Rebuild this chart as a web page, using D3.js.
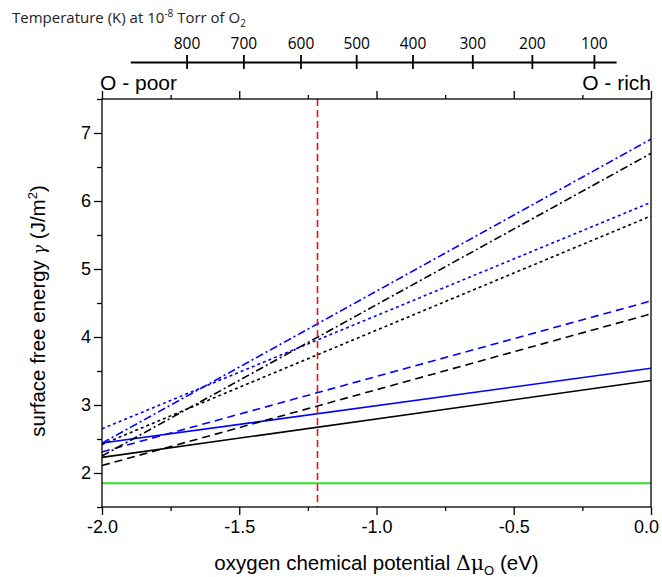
<!DOCTYPE html>
<html>
<head>
<meta charset="utf-8">
<script src="https://cdn.jsdelivr.net/npm/d3@7"></script>
<style>
  body { margin: 0; background: #fff; }
  svg { display: block; }
  .tick text { fill: #000; }
</style>
</head>
<body>
<svg id="chart"></svg>
<script>
// series values at mu = -2.0 and mu = 0.0 (eV)
const muEnds = [-2.0, 0.0];
const blueSolid = [2.44, 3.54];
const blackSolid = [2.23, 3.36];
const blueDashed = [2.31, 4.53];
const blackDashed = [2.11, 4.34];
const blueDotted = [2.65, 5.98];
const blackDotted = [2.42, 5.78];
const blueDashDot = [2.44, 6.91];
const blackDashDot = [2.25, 6.70];
const greenFlat = [1.85, 1.85];
const markerMu = -1.215;

// top axis: temperature ticks and their position in mu
const tempTicks = [900, 800, 700, 600, 500, 400, 300, 200, 100, 64];
const tempMu = [-1.897, -1.692, -1.485, -1.277, -1.074, -0.869, -0.651, -0.434, -0.208, -0.127];
const tempLabels = [800, 700, 600, 500, 400, 300, 200, 100];

const xMajor = [-2.0, -1.5, -1.0, -0.5, 0.0];
const xMinor = [-1.75, -1.25, -0.75, -0.25];
const yMajor = [2, 3, 4, 5, 6, 7];
const yMinor = [1.5, 2.5, 3.5, 4.5, 5.5, 6.5, 7.5];

const series = [
    {values: greenFlat, color: '#2fe02f', dash: null, width: 2},
    {values: blackSolid, color: '#000', dash: null, width: 1.6},
    {values: blueSolid, color: '#0000ff', dash: null, width: 1.6},
    {values: blackDashed, color: '#000', dash: '8,5', width: 1.6},
    {values: blueDashed, color: '#0000ff', dash: '8,5', width: 1.6},
    {values: blackDotted, color: '#000', dash: '3,3', width: 1.6},
    {values: blueDotted, color: '#0000ff', dash: '3,3', width: 1.6},
    {values: blackDashDot, color: '#000', dash: '8,3,2,3', width: 1.6},
    {values: blueDashDot, color: '#0000ff', dash: '8,3,2,3', width: 1.6}
];

const width = 662, height = 577;
const margin = {top: 99, right: 11, bottom: 70, left: 102};

const svg = d3.select('#chart')
    .attr('width', width)
    .attr('height', height);

const x = d3.scaleLinear().domain([-2, 0]).range([margin.left, width - margin.right]);
const y = d3.scaleLinear().domain([1.5, 7.5]).range([height - margin.bottom, margin.top]);

const tickFont = '18px "Liberation Sans", Arial, sans-serif';

// lines
const line = d3.line()
    .x(d => x(d[0]))
    .y(d => y(d[1]));

svg.append('g')
    .selectAll('path')
    .data(series)
    .join('path')
    .attr('d', s => line(muEnds.map((m, i) => [m, s.values[i]])))
    .attr('fill', 'none')
    .attr('stroke', s => s.color)
    .attr('stroke-width', s => s.width)
    .attr('stroke-dasharray', s => s.dash);

// red marker line
svg.append('line')
    .attr('x1', Math.round(x(markerMu)) + 0.5).attr('x2', Math.round(x(markerMu)) + 0.5)
    .attr('y1', y(7.5)).attr('y2', y(1.5))
    .attr('stroke', '#f01010')
    .attr('stroke-width', 1.6)
    .attr('stroke-dasharray', '7,4');

// frame
svg.append('rect')
    .attr('x', x(-2)).attr('y', y(7.5))
    .attr('width', x(0) - x(-2)).attr('height', y(1.5) - y(7.5))
    .attr('fill', 'none')
    .attr('stroke', '#000')
    .attr('stroke-width', 1.3);

function styleAxis(g) {
    g.select('.domain').remove();
    g.selectAll('.tick line').attr('stroke', '#000').attr('stroke-width', 1.3);
    g.selectAll('.tick text').style('font', tickFont);
}

// bottom axis
const bottomAxis = svg.append('g')
    .attr('transform', `translate(0, ${y(1.5)})`)
    .call(d3.axisBottom(x).tickValues(xMajor).tickSize(8).tickPadding(5).tickFormat(d => d.toFixed(1)))
    .call(styleAxis);
bottomAxis.selectAll('.tick text').filter(d => d === 0).attr('dx', -5);
svg.append('g')
    .attr('transform', `translate(0, ${y(1.5)})`)
    .call(d3.axisBottom(x).tickValues(xMinor).tickSize(4).tickFormat(''))
    .call(styleAxis);

// top frame ticks
svg.append('g')
    .attr('transform', `translate(0, ${y(7.5)})`)
    .call(d3.axisTop(x).tickValues(xMajor).tickSize(8).tickFormat(''))
    .call(styleAxis);
svg.append('g')
    .attr('transform', `translate(0, ${y(7.5)})`)
    .call(d3.axisTop(x).tickValues(xMinor).tickSize(4).tickFormat(''))
    .call(styleAxis);

// left axis
svg.append('g')
    .attr('transform', `translate(${x(-2)}, 0)`)
    .call(d3.axisLeft(y).tickValues(yMajor).tickSize(8).tickPadding(3).tickFormat(d3.format('d')))
    .call(styleAxis);
svg.append('g')
    .attr('transform', `translate(${x(-2)}, 0)`)
    .call(d3.axisLeft(y).tickValues(yMinor).tickSize(5).tickFormat(''))
    .call(styleAxis);

// temperature axis on top
const tscale = d3.scaleLinear()
    .domain(tempTicks)
    .range(tempMu.map(m => x(m)));

const tAxis = svg.append('g')
    .attr('transform', 'translate(0, 62)')
    .call(d3.axisTop(tscale).tickValues(tempLabels).tickSize(7).tickSizeOuter(0).tickPadding(6));
tAxis.select('.domain').attr('stroke', '#000').attr('stroke-width', 1.8);
tAxis.selectAll('.tick line').attr('stroke', '#000').attr('stroke-width', 1.8).attr('y1', 7);
tAxis.selectAll('.tick text').style('font', '15.5px "Open Sans", "Noto Sans", sans-serif').attr('fill', '#222');

const title = svg.append('text')
    .attr('x', 12).attr('y', 23)
    .style('font', '15px "Open Sans", "Noto Sans", sans-serif')
    .attr('fill', '#222');
title.append('tspan').text('Temperature (K) at 10');
title.append('tspan').attr('dy', -6).style('font-size', '10px').text('-8');
title.append('tspan').attr('dy', 6).text(' Torr of O');
title.append('tspan').attr('dy', 4).style('font-size', '10px').text('2');

// O-poor / O-rich
svg.append('text')
    .attr('x', x(-2) - 2).attr('y', 90)
    .style('font', '21px "Liberation Sans", Arial, sans-serif')
    .text('O - poor');
svg.append('text')
    .attr('x', x(0)).attr('y', 90)
    .attr('text-anchor', 'end')
    .style('font', '21px "Liberation Sans", Arial, sans-serif')
    .text('O - rich');

// x label
const xl = svg.append('text')
    .attr('x', (x(-2) + x(0)) / 2).attr('y', 570)
    .attr('text-anchor', 'middle')
    .style('font', '20.5px "Liberation Sans", Arial, sans-serif');
xl.append('tspan').text('oxygen chemical potential ');
xl.append('tspan').style('font-family', '"DejaVu Serif", serif').text('Δμ');
xl.append('tspan').attr('dy', 5).style('font-size', '13px').text('O');
xl.append('tspan').attr('dy', -5).text(' (eV)');

// y label
const yl = svg.append('text')
    .attr('transform', 'translate(45, 311) rotate(-90)')
    .attr('text-anchor', 'middle')
    .style('font', '20.5px "Liberation Sans", Arial, sans-serif');
yl.append('tspan').text('surface free energy ');
yl.append('tspan').style('font-family', '"DejaVu Serif", serif').style('font-style', 'italic').style('font-size', '16px').text('γ');
yl.append('tspan').text(' (J/m');
yl.append('tspan').attr('dy', -8).style('font-size', '13px').text('2');
yl.append('tspan').attr('dy', 8).text(')');
</script>
</body>
</html>
